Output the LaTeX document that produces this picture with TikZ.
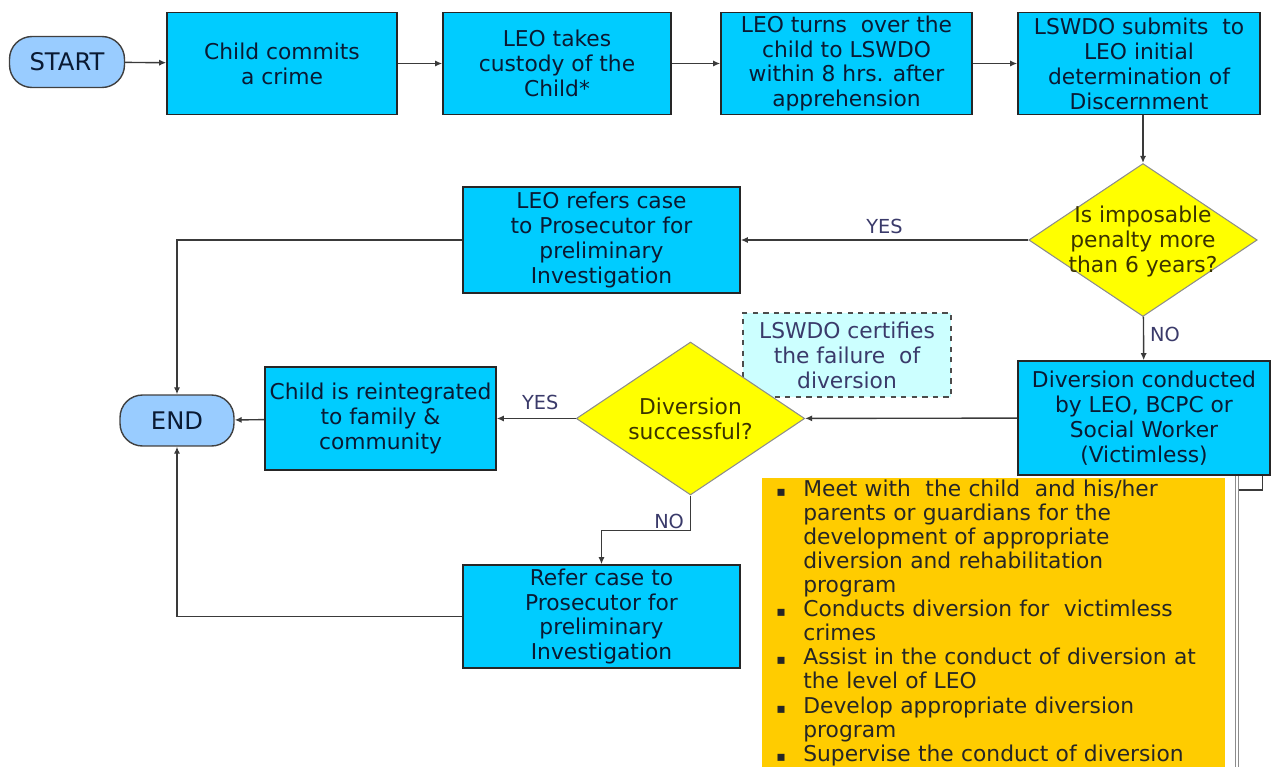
\documentclass[tikz,border=0pt]{standalone}
\usepackage{fontspec}
\setmainfont{DejaVu Sans}
\usetikzlibrary{arrows.meta,positioning,shapes.geometric}
\definecolor{boxfill}{HTML}{00CCFF}
\definecolor{termfill}{HTML}{99CCFF}
\definecolor{decfill}{HTML}{FFFF00}
\definecolor{notefill}{HTML}{CCFFFF}
\definecolor{listfill}{HTML}{FFCC00}
\definecolor{boxtext}{HTML}{0A1A33}
\definecolor{labtext}{HTML}{3A3A6A}
\definecolor{dectext}{HTML}{3A3300}
\definecolor{linegray}{HTML}{3A3A3A}
\newcommand{\boxfont}{\fontsize{12.4}{14.2}\selectfont}
\newcommand{\taskitem}[1]{\par\hangindent=0.7cm\hangafter=1\noindent
  \makebox[0.7cm][l]{\hspace{0.16cm}{\fontsize{8}{8}\selectfont ▪}}#1}
\tikzset{
  stepbox/.style={draw=black!85, line width=0.9pt, fill=boxfill, text=boxtext,
    align=center, font=\boxfont, inner sep=1pt},
  termbox/.style={draw=black!75, line width=0.8pt, fill=termfill, text=boxtext,
    rounded corners=0.45cm, minimum height=1.02cm, minimum width=2.3cm,
    font=\fontsize{13.8}{16}\selectfont},
  decision/.style={diamond, draw=black!45, line width=0.6pt, fill=decfill,
    inner sep=0pt, minimum width=4.57cm, minimum height=3.06cm},
  dectxt/.style={align=center, font=\boxfont, text=dectext, inner sep=0pt},
  notebox/.style={draw=black!70, dashed, line width=0.8pt, fill=notefill,
    text=labtext, align=center, font=\boxfont,
    minimum width=4.16cm, minimum height=1.68cm},
  taskbox/.style={fill=listfill, minimum width=9.26cm, minimum height=5.78cm, inner sep=0pt},
  tasktxt/.style={text=black!85, font=\fontsize{12.4}{13.7}\selectfont,
    text width=9.0cm, inner sep=0pt},
  lab/.style={font=\fontsize{11}{13}\selectfont, text=labtext},
  arr/.style={-{Latex[length=4pt,width=3.5pt]}, line width=0.8pt, draw=linegray},
  link/.style={line width=0.8pt, draw=linegray},
  gutter/.style={draw=black!45, line width=0.5pt, double=white, double distance=1.2pt}
}
\begin{document}
\begin{tikzpicture}[x=0.02cm, y=-0.02cm]
  \useasboundingbox (0,0) rectangle (1272,767);
  \node[termbox] (start) at (67,62) {START};
  \foreach \name/\cx/\w/\txt in {
    b1/282/4.6/{Child commits\\a crime},
    b2/557/4.56/{LEO takes\\custody of the\\Child*},
    b3/846.5/5.02/{LEO turns~ over the\\child to LSWDO\\within 8 hrs. after\\apprehension},
    b4/1139/4.84/{LSWDO submits~ to\\LEO initial\\determination of\\Discernment}} {
    \node[stepbox, minimum width=\w cm, minimum height=2.04cm] (\name) at (\cx,63.5) {\txt};
  }
  \foreach \a/\b in {start/b1,b1/b2,b2/b3,b3/b4}
    \draw[arr] (\a) -- (\b);

  \node[decision] (q1) at (1143,240) {};
  \node[dectxt] (q1txt) at ([yshift=-1pt]q1) {Is imposable\\penalty more\\than 6 years?};
  \node[stepbox, minimum width=5.54cm, minimum height=2.12cm] (ref1) at (601.5,240)
    {LEO refers case\\to Prosecutor for\\preliminary\\Investigation};
  \node[stepbox, minimum width=5.04cm, minimum height=2.28cm] (div) at (1144,418)
    {Diversion conducted\\by LEO, BCPC or\\Social Worker\\(Victimless)};
  \node[notebox] (note) at (847,355) {LSWDO certifies\\the failure~ of\\diversion};
  \node[decision] (q2) at (690.5,418.5) {};
  \node[dectxt] (q2txt) at (q2) {Diversion\\successful?};
  \node[stepbox, minimum width=4.62cm, minimum height=2.06cm] (reint) at (380.5,418.5)
    {Child is reintegrated\\to family \&\\community};
  \node[termbox, minimum width=2.28cm] (end) at (177,420.5) {END};
  \node[stepbox, minimum width=5.54cm, minimum height=2.06cm] (ref2) at (601.5,616.5)
    {Refer case to\\Prosecutor for\\preliminary\\Investigation};

  \draw[arr] (b4.south -| q1.north) -- (q1.north);
  \draw[arr] (q1) -- node[lab, above] {YES} (ref1);
  \draw[arr] (q1) -- node[lab, right, pos=0.4] {NO} (div);
  \draw[arr] (div) -- (q2);
  \draw[arr] (q2) -- node[lab, above=1pt, pos=0.45] {YES} (reint);
  \draw[arr] (reint) -- (end);
  \draw[arr] (q2.south) -- node[lab, left, pos=0.75] {NO} ++(0,35) -| (ref2.north);
  \draw[arr] (ref1) -| (end);
  \draw[arr] (ref2) -| (end);

  \node[taskbox, anchor=north west] (tasks) at (762,478) {};
  \node[tasktxt, anchor=north west] (taskstxt) at (768,472) {\raggedright
    \taskitem{Meet with~ the child~ and his/her\newline parents or guardians for the\newline development of appropriate\newline diversion and rehabilitation\newline program}
    \taskitem{Conducts diversion for~ victimless\newline crimes}
    \taskitem{Assist in the conduct of diversion at\newline the level of LEO}
    \taskitem{Develop appropriate diversion\newline program}
    \taskitem{Supervise the conduct of diversion}};

  \coordinate (bend) at (1237,490);
  \coordinate (tail) at (1237,767);
  \draw[link, line width=0.6pt] ([xshift=-0.16cm]div.south east) |- (bend);
  \draw[gutter] (bend |- div.south) -- (tail);
\end{tikzpicture}
\end{document}
